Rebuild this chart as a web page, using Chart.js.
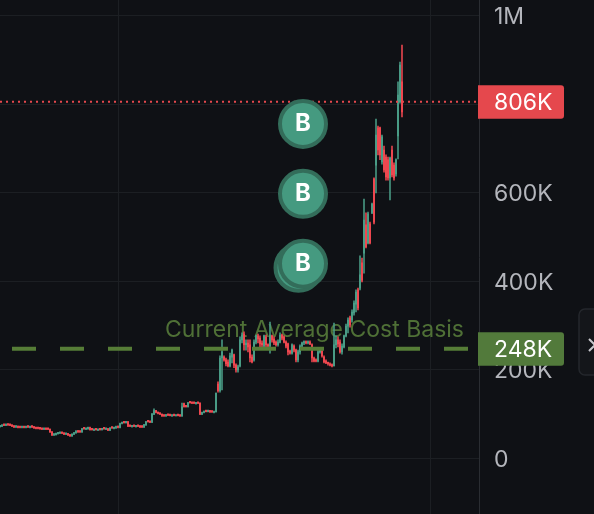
<!DOCTYPE html>
<html>
<head>
<meta charset="utf-8">
<style>
  html, body { margin: 0; padding: 0; background: #0f1115; overflow: hidden; }
  #wrap { width: 594px; height: 514px; }
</style>
<script src="https://cdn.jsdelivr.net/npm/chart.js@4"></script>
</head>
<body>
<div id="wrap"><canvas id="chart" width="594" height="514"></canvas></div>
<script>
// values are in thousands, one candle per entry
const opens = [
  72,73,76,75,77,76,75,73,71,72, 71,70,71,70,72,70,72,71,69,69,
  68,67,66,67,67,66,60,53,54,56, 57,58,57,55,56,53,51,55,58,62,
  61,60,68,66,67,70,66,64,66,64, 66,65,68,66,67,64,70,68,69,72,
  70,79,82,81,83,74,72,74,72,74, 73,72,71,76,84,83,82,100,108,104,
  102,100,97,96,99,98,96,98,96,98, 97,96,124,118,117,127,126,126,124,126,
  125,100,104,107,106,108,106,104,
  105,168,153,227,229,223,218,209,229,234, 211,200,209,268,281,257,261,257,229,223,
  263,277,272,261,254,275,257,254,277,270, 263,257,263,279,275,263,259,243,238,254,
  245,223,241,254,261,263,261,263,257,227, 223,220,241,243,229,220,216,214,211,209,
  257,268,263,241,252,277,299,318,313,329, 349,381,385,442,464,528,487,530,555,632,
  663,747,747,670,697,681,675,634,697,663, 643,729,806,851
];
const closes = [
  73,75,75,76,76,75,73,71,72,70, 70,71,70,71,71,71,71,69,68,68,
  67,66,67,66,66,60,53,54,55,57, 58,57,55,56,53,51,55,58,62,60,
  60,67,67,67,70,65,65,65,65,65, 65,67,67,67,64,69,69,69,72,70,
  79,81,81,83,73,73,73,73,73,73, 71,71,76,83,83,82,100,108,104,102,
  100,96,96,98,98,97,97,97,97,97, 96,117,117,117,126,126,125,125,125,125,
  100,104,106,106,108,105,105,105,
  148,153,227,241,223,214,209,232,245,211, 200,207,268,279,257,261,252,227,218,263,
  277,270,259,257,277,257,254,279,268,261, 257,263,279,272,263,254,241,238,257,245,
  223,241,254,261,263,261,263,259,227,220, 220,241,245,232,218,216,214,211,209,257,
  268,259,241,254,277,299,313,302,331,351, 376,340,415,403,539,478,553,487,575,534,
  731,697,686,727,652,636,634,679,641,634, 675,821,889,783
];
const highs = [
  74,76,77,77,78,77,76,74,73,73, 72,72,72,72,73,72,73,72,70,70,
  69,68,68,68,68,67,61,55,56,58, 59,59,58,57,57,54,56,59,63,63,
  62,68,69,68,71,71,67,66,67,66, 67,68,69,68,68,70,71,70,73,73,
  80,82,83,84,84,75,74,75,74,75, 74,73,77,84,85,84,102,112,109,105,
  103,101,98,99,100,99,98,99,98,99, 98,125,125,119,127,128,127,127,126,127,
  126,105,107,108,109,109,107,106,
  148,173,232,268,232,227,223,238,247,236, 214,211,275,284,286,268,268,268,234,268,
  279,281,277,266,279,279,259,308,279,275, 266,268,284,281,277,266,261,245,259,257,
  247,245,257,263,266,266,266,266,259,229, 225,245,247,245,232,223,218,216,214,306,
  277,275,268,259,279,304,318,322,336,356, 381,385,458,453,586,555,557,534,577,634,
  767,751,749,731,706,686,681,681,706,668, 677,851,896,934
];
const lows = [
  71,72,74,74,75,74,72,70,70,69, 69,69,69,69,70,69,70,68,67,67,
  66,65,65,65,65,59,52,52,53,55, 56,56,54,54,52,50,50,54,57,59,
  59,59,66,65,66,64,64,63,64,63, 64,64,66,65,63,63,68,67,68,69,
  69,78,80,80,72,72,71,72,71,72, 70,70,70,75,82,81,81,99,103,101,
  99,95,95,95,97,96,95,96,96,96, 95,95,116,116,116,125,124,124,123,124,
  99,99,103,105,105,104,104,103,
  105,150,150,155,220,209,207,207,216,205, 195,195,207,261,245,245,241,218,216,220,
  259,261,252,252,250,252,250,238,263,257, 254,254,261,268,261,250,234,236,236,241,
  218,218,236,247,257,259,259,257,218,218, 218,218,238,229,216,214,211,209,207,209,
  250,252,238,236,250,275,284,297,308,324, 331,336,381,399,419,476,485,485,553,530,
  600,686,675,665,647,629,629,584,636,629, 638,677,803,772
];

const yTicks = [0, 200, 400, 600, 800, 1000];
const yTickLabels = ["0", "200K", "400K", "600K", "800K", "1M"];
const xGridAt = [59, 215];

const lastPrice = 806;
const lastPriceLabel = "806K";
const costBasis = 248;
const costBasisLabel = "248K";
const costBasisTitle = "Current Average Cost Basis";

// the lower marker sits underneath, so it goes first
const buyX = [149.25, 151.5, 151.5, 151.5];
const buyY = [431, 440, 598, 756];

const GREEN = "#4a9d87", RED = "#ef4850", OLIVE = "#527a3b";
const FONT = "Inter, 'Noto Sans', sans-serif";

const candleColor = ctx => closes[ctx.dataIndex] >= opens[ctx.dataIndex] ? GREEN : RED;
const wicks = highs.map((h, i) => ({ x: i, y: [lows[i], h] }));
const bodies = opens.map((o, i) => ({ x: i, y: [Math.min(o, closes[i]), Math.max(o, closes[i])] }));

// price pills, title text, the B on each marker and the little collapse button
const overlay = {
  id: "overlay",
  beforeDatasetsDraw(chart) {
    const { ctx, scales: { y } } = chart;
    ctx.save();
    ctx.font = "23px " + FONT;
    ctx.fillStyle = "#4f7036";
    ctx.textAlign = "right";
    ctx.textBaseline = "alphabetic";
    ctx.fillText(costBasisTitle, 464, y.getPixelForValue(costBasis) - 12);
    ctx.restore();
  },
  afterDatasetsDraw(chart) {
    const { ctx, scales: { y } } = chart;
    ctx.save();
    const pill = (value, label, color) => {
      const py = y.getPixelForValue(value);
      ctx.fillStyle = color;
      ctx.beginPath();
      ctx.roundRect(478, py - 16.5, 86, 33.5, [0, 3, 3, 0]);
      ctx.fill();
      ctx.fillStyle = "#ffffff";
      ctx.font = "23px " + FONT;
      ctx.textAlign = "left";
      ctx.textBaseline = "middle";
      ctx.fillText(label, 494, py + 1);
    };
    pill(lastPrice, lastPriceLabel, "#e5484d");
    pill(costBasis, costBasisLabel, OLIVE);

    const meta = chart.getDatasetMeta(0);
    ctx.fillStyle = "#ffffff";
    ctx.font = "700 24px " + FONT;
    ctx.textAlign = "center";
    ctx.textBaseline = "middle";
    meta.data.forEach((pt, i) => {
      if (i > 0) ctx.fillText("B", pt.x, pt.y);
    });

    // button on the right edge
    ctx.fillStyle = "#14161a";
    ctx.strokeStyle = "#24272c";
    ctx.lineWidth = 1.5;
    ctx.beginPath();
    ctx.roundRect(579, 309, 30, 66, 6);
    ctx.fill();
    ctx.stroke();
    ctx.strokeStyle = "#c8c8cc";
    ctx.lineWidth = 2;
    ctx.beginPath();
    ctx.moveTo(589, 339);
    ctx.lineTo(595, 345);
    ctx.lineTo(589, 351);
    ctx.stroke();
    ctx.restore();
  }
};

new Chart(document.getElementById("chart"), {
  type: "bar",
  plugins: [overlay],
  data: {
    datasets: [
      {
        type: "scatter",
        data: buyX.map((x, i) => ({ x, y: buyY[i] })),
        backgroundColor: "#459a80",
        borderColor: "#336d5a",
        borderWidth: 4,
        pointRadius: 23,
        pointHoverRadius: 23,
        order: 0
      },
      {
        type: "line",
        data: [{ x: 6, y: costBasis }, { x: 234, y: costBasis }],
        borderColor: "#567d37",
        borderWidth: 4,
        borderDash: [24, 24],
        pointRadius: 0,
        order: 1
      },
      {
        type: "line",
        data: [{ x: 0, y: lastPrice }, { x: 239.5, y: lastPrice }],
        borderColor: "#e5484d",
        borderWidth: 2,
        borderDash: [2, 4],
        pointRadius: 0,
        order: 2
      },
      {
        data: bodies,
        backgroundColor: candleColor,
        barThickness: 1.3,
        minBarLength: 1.4,
        grouped: false,
        order: 3
      },
      {
        data: wicks,
        backgroundColor: candleColor,
        barThickness: 0.9,
        grouped: false,
        order: 4
      }
    ]
  },
  options: {
    responsive: false,
    animation: false,
    events: [],
    layout: { padding: 0, autoPadding: false },
    plugins: { legend: { display: false }, tooltip: { enabled: false } },
    scales: {
      x: {
        type: "linear",
        offset: false,
        min: 0,
        max: 239.5,
        afterBuildTicks: s => { s.ticks = xGridAt.map(value => ({ value })); },
        afterFit: s => { s.height = 0; s.paddingLeft = 0; s.paddingRight = 0; },
        grid: { color: "#1c1f23", drawTicks: false, offset: false },
        border: { display: false },
        ticks: { display: false }
      },
      y: {
        position: "right",
        min: -125.4,
        max: 1036,
        afterBuildTicks: s => { s.ticks = yTicks.map(value => ({ value })); },
        afterFit: s => { s.width = 115; s.paddingTop = 0; s.paddingBottom = 0; },
        grid: { color: "#1c1f23", drawTicks: false },
        border: { color: "#2a2d32", width: 1 },
        ticks: {
          color: "#b4b6bc",
          padding: 15,
          labelOffset: 1.5,
          font: { family: FONT, size: 23 },
          callback: v => yTickLabels[yTicks.indexOf(v)]
        }
      }
    }
  }
});
</script>
</body>
</html>
